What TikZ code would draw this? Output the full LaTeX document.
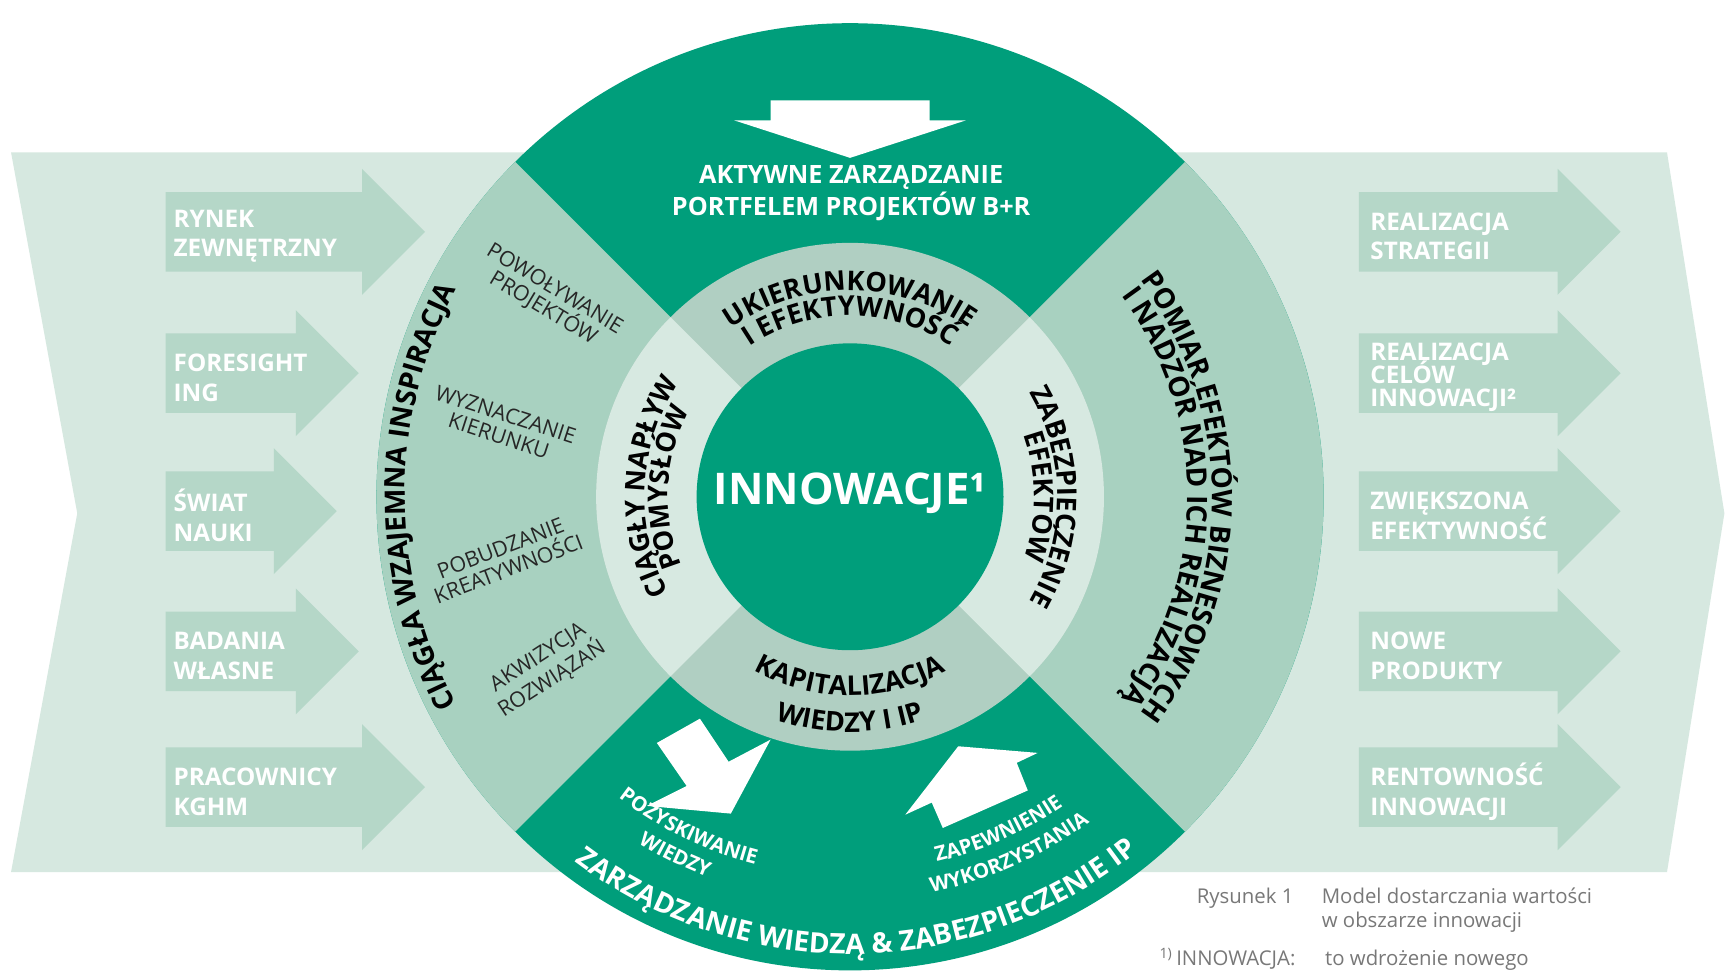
\documentclass[tikz,border=0pt]{standalone}
\usepackage{fontspec}
\setmainfont{Open Sans}
\usetikzlibrary{decorations.text}

\definecolor{kgdark}{RGB}{0,158,123}
\definecolor{kgmid}{RGB}{168,209,192}
\definecolor{kggrey}{RGB}{176,207,194}
\definecolor{kglight}{RGB}{215,233,225}
\definecolor{kgband}{RGB}{214,232,224}
\definecolor{kgarrow}{RGB}{181,215,200}
\definecolor{kgcaption}{RGB}{120,120,120}

% text bent along a circle round (ctr): radius, from, to, format, text
\newcommand\ringtext[5]{%
  \path[decorate,decoration={text along path,text align=center,text={|#4|#5}}]
    (ctr) ++(#2:#1) arc[start angle=#2,end angle=#3,radius=#1];}
\newcommand\ringfont{\fontsize{14}{14}\selectfont\bfseries}
\newcommand\outerfont{\fontsize{14.5}{14.5}\selectfont\bfseries}
\newcommand\rimfont{\color{white}\fontsize{14.5}{14.5}\selectfont\bfseries}
\newcommand\smallrimfont{\color{white}\fontsize{10.5}{10.5}\selectfont\bfseries}

\begin{document}
\begin{tikzpicture}[x=0.02cm,y=0.02cm,
  flowarrow/.style={fill=kgarrow},
  flowlabel/.style={anchor=west,align=left,inner sep=0pt,text=white,
    font=\fontsize{12.5}{15.3}\selectfont\bfseries},
  subitem/.style={align=center,inner sep=0pt,text=black!85,
    font=\fontsize{11}{11.5}\selectfont},
  caption/.style={inner sep=0pt,text=kgcaption,
    font=\fontsize{10.5}{12.5}\selectfont},
  whitearrow/.style={fill=white}]

  \path[use as bounding box,fill=white] (0,0) rectangle (1568,887);
  \coordinate (ctr) at (770,437);

  % the band behind everything:
  \fill[kgband] (10,749) -- (1510,749) -- (1562,422) -- (1510,97)
    -- (10,97) -- (70,422) -- cycle;

  % inputs on the left:
  \foreach \y/\tip/\txt [count=\i] in {677/385/{RYNEK\\ZEWNĘTRZNY},
      549/325/{FORESIGHT\\ING}, 424/305/{ŚWIAT\\NAUKI},
      297/325/{BADANIA\\WŁASNE}, 174/385/{PRACOWNICY\\KGHM}} {
    \fill[flowarrow] (150,\y+36) -- (\tip-57,\y+36) -- (\tip-57,\y+57)
      -- (\tip,\y) -- (\tip-57,\y-57) -- (\tip-57,\y-36) -- (150,\y-36) -- cycle;
    \node[flowlabel] (in\i) at (157,\y-4) {\txt};
  }

  % results on the right:
  \foreach \y/\txt [count=\i] in {677/{REALIZACJA\\STRATEGII},
      549/{REALIZACJA\\[-3.5pt]CELÓW\\[-3.5pt]INNOWACJI²},
      424/{ZWIĘKSZONA\\EFEKTYWNOŚĆ}, 297/{NOWE\\PRODUKTY},
      174/{RENTOWNOŚĆ\\INNOWACJI}} {
    \fill[flowarrow] (1231,\y+36) -- (1411,\y+36) -- (1411,\y+57)
      -- (1468,\y) -- (1411,\y-57) -- (1411,\y-36) -- (1231,\y-36) -- cycle;
    \node[flowlabel] (out\i) at (1241,\y-4) {\txt};
  }

  % the wheel:
  \fill[kgdark] (ctr) circle (429);
  \fill[kgmid] (ctr) -- ++(135:429) arc[start angle=135,end angle=225,radius=429] -- cycle;
  \fill[kgmid] (ctr) -- ++(-45:429) arc[start angle=-45,end angle=45,radius=429] -- cycle;
  \fill[kggrey] (ctr) circle (230);
  \fill[kglight] (ctr) -- ++(135:230) arc[start angle=135,end angle=225,radius=230] -- cycle;
  \fill[kglight] (ctr) -- ++(-45:230) arc[start angle=-45,end angle=45,radius=230] -- cycle;
  \fill[kgdark] (ctr) circle (139);

  \node[text=white,font=\fontsize{22.5}{27}\selectfont\bfseries] (innov) at (770,440) {INNOWACJE¹};

  % inner ring:
  \ringtext{187}{160}{20}{\ringfont}{UKIERUNKOWANIE}
  \ringtext{164}{160}{20}{\ringfont}{I EFEKTYWNOŚĆ}
  \ringtext{186}{242}{112}{\ringfont}{CIĄGŁY NAPŁYW}
  \ringtext{165}{242}{112}{\ringfont}{POMYSŁÓW}
  \ringtext{188}{65}{-65}{\ringfont}{ZABEZPIECZENIE}
  \ringtext{167}{65}{-65}{\ringfont}{EFEKTÓW}
  \ringtext{180}{200}{340}{\ringfont}{KAPITALIZACJA}
  \ringtext{213}{200}{340}{\ringfont}{WIEDZY I IP}

  % outer ring:
  \ringtext{403}{250}{110}{\outerfont}{CIĄGŁA WZAJEMNA INSPIRACJA}
  \ringtext{328}{70}{-70}{\outerfont}{POMIAR EFEKTÓW BIZNESOWYCH}
  \ringtext{306}{70}{-70}{\outerfont}{I NADZÓR NAD ICH REALIZACJĄ}
  \ringtext{414}{201}{341}{\rimfont}{ZARZĄDZANIE WIEDZĄ {\&} ZABEZPIECZENIE IP}
  \ringtext{344}{214}{274}{\smallrimfont}{POZYSKIWANIE}
  \ringtext{368}{214}{274}{\smallrimfont}{WIEDZY}
  \ringtext{340}{264}{324}{\smallrimfont}{ZAPEWNIENIE}
  \ringtext{366}{264}{324}{\smallrimfont}{WYKORZYSTANIA}

  \node[subitem,rotate=-31] (sub1) at (497,616) {POWOŁYWANIE\\PROJEKTÓW};
  \node[subitem,rotate=-18] (sub2) at (455,502) {WYZNACZANIE\\KIERUNKU};
  \node[subitem,rotate=21] (sub3) at (457,381) {POBUDZANIE\\KREATYWNOŚCI};
  \node[subitem,rotate=33] (sub4) at (494,281) {AKWIZYCJA\\ROZWIĄZAŃ};

  % top sector:
  \fill[whitearrow] (698,796) -- (842,796) -- (842,778) -- (875,778)
    -- (770,744) -- (665,778) -- (698,778) -- cycle;
  \node[text=white,align=center,font=\fontsize{13}{14.7}\selectfont\bfseries]
    (portfolio) at (771,712) {AKTYWNE ZARZĄDZANIE\\PORTFELEM PROJEKTÓW B+R};

  % bottom sector arrows:
  \fill[whitearrow] (634,236) -- (660,197) -- (698,217) -- (662,150)
    -- (586,157) -- (622,175) -- (595,214) -- cycle;
  \fill[whitearrow] (868,211) -- (940,205) -- (921,196) -- (931,171)
    -- (854,137) -- (844,160) -- (820,149) -- cycle;

  % caption:
  \node[caption,anchor=base east] (capno) at (1172,69) {Rysunek 1};
  \node[caption,anchor=base west] (captext) at (1197,69) {Model dostarczania wartości};
  \node[caption,anchor=base west] (captext2) at (1197,47) {w obszarze innowacji};
  \node[caption,anchor=base west] (notekey) at (1050,12) {\textsuperscript{1)}\,INNOWACJA:};
  \node[caption,anchor=base west] (notetext) at (1200,12) {to wdrożenie nowego};
\end{tikzpicture}
\end{document}
